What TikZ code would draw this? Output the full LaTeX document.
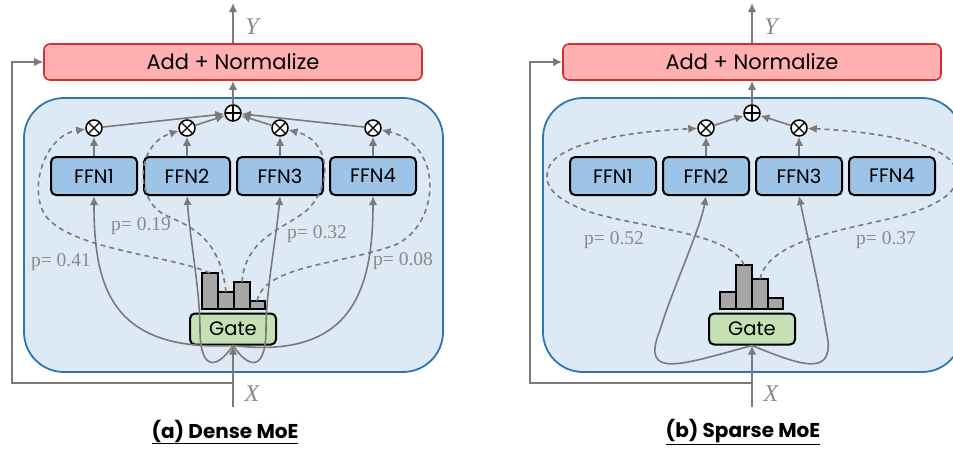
\documentclass[tikz,border=0pt]{standalone}
\usepackage{fontspec}
\setmainfont{Liberation Serif}
\newfontfamily\gothic{Poppins}
\usetikzlibrary{arrows.meta}
\definecolor{lgray}{HTML}{7A7A7A}
\definecolor{tgray}{HTML}{8A8A8A}
\definecolor{addred}{HTML}{D0312D}
\definecolor{addpink}{HTML}{FFB1B1}
\definecolor{moeblue}{HTML}{2E75B6}
\definecolor{moebg}{HTML}{DDEAF6}
\definecolor{ffnblue}{HTML}{9DC3E6}
\definecolor{gategreen}{HTML}{C5E0B4}
\definecolor{bargray}{HTML}{A6A6A6}
\tikzset{
  outerbox/.style={draw=moeblue, fill=moebg, line width=1.8pt, rounded corners=40pt, minimum width=419pt, minimum height=274pt, inner sep=0pt},
  addbox/.style={draw=addred, fill=addpink, line width=1.6pt, rounded corners=6pt, minimum width=378pt, minimum height=36pt, inner sep=0pt, font=\gothic\fontsize{21}{24}\selectfont},
  ffnbox/.style={draw=black, fill=ffnblue, line width=2pt, rounded corners=5pt, minimum width=86pt, minimum height=38pt, inner sep=0pt, font=\gothic\fontsize{19.5}{22}\selectfont},
  gatebox/.style={draw=black, fill=gategreen, line width=2pt, rounded corners=5pt, minimum width=86pt, minimum height=31pt, inner sep=0pt, font=\gothic\fontsize{19.5}{22}\selectfont},
  bar/.style={draw=black, fill=bargray, line width=1.4pt},
  otimesnode/.style={circle, draw=black, fill=white, line width=1.5pt, minimum size=16pt, inner sep=0pt,
    path picture={\draw[line width=1.4pt] (path picture bounding box.south west) -- (path picture bounding box.north east) (path picture bounding box.north west) -- (path picture bounding box.south east);}},
  oplusnode/.style={circle, draw=black, fill=white, line width=1.5pt, minimum size=16pt, inner sep=0pt,
    path picture={\draw[line width=1.4pt] (path picture bounding box.north) -- (path picture bounding box.south) (path picture bounding box.west) -- (path picture bounding box.east);}},
  conn/.style={draw=lgray, line width=1.6pt, -{Latex[length=9pt,width=8.5pt]}},
  dashconn/.style={conn, dash pattern=on 5pt off 4pt},
  plabel/.style={text=tgray, font=\fontsize{19.5}{22}\selectfont, inner sep=1pt},
  xylabel/.style={text=tgray, font=\itshape\fontsize{24}{26}\selectfont, inner sep=0pt},
  caption/.style={font=\gothic\bfseries\fontsize{20}{24}\selectfont, inner sep=0pt},
}
\begin{document}
\begin{tikzpicture}[x=1pt,y=-1pt]
\useasboundingbox (0,0) rectangle (953,451);
% ================= (a) Dense MoE =================
\node[outerbox] (aouter) at (233.5,235) {};
\node[addbox] (aadd) at (233,62) {Add + Normalize};
\node[oplusnode] (aplus) at (233,113) {};
\node[ffnbox] (af1) at (94,176) {FFN1};
\node[ffnbox] (af2) at (187,176) {FFN2};
\node[ffnbox] (af3) at (280,176) {FFN3};
\node[ffnbox] (af4) at (373,176) {FFN4};
\node[otimesnode] (ax1) at (94,128) {};
\node[otimesnode] (ax2) at (187,128) {};
\node[otimesnode] (ax3) at (280,128) {};
\node[otimesnode] (ax4) at (373,128) {};
\node[gatebox] (agate) at (233,329) {Gate};
\draw[bar] (202,273) rectangle (218,309);
\draw[bar] (218,292) rectangle (234,309);
\draw[bar] (234,282) rectangle (250,309);
\draw[bar] (250,301) rectangle (265,309);
\coordinate (ab1) at (210,273);
\coordinate (ab2) at (226,292);
\coordinate (ab3) at (242,282);
\coordinate (ab4) at (257,301);
\coordinate (aytop) at (233,3);
\coordinate (axbot) at (233,407);
\coordinate (askip) at (233,383);
\coordinate (acorner) at (12,383);
% arrows
\draw[conn] (aadd.north) -- (aytop);
\draw[conn] (aplus) -- (aadd.south);
\foreach \i in {1,2,3,4} {\draw[conn] (af\i.north) -- (ax\i); \draw[conn] (ax\i) -- (aplus);}
\draw[conn] (axbot) -- (agate.south);
\draw[conn] (askip) -- (acorner) |- (aadd.west);
% solid gate -> FFN
\draw[conn] (agate.south) .. controls (110,352) and (94,285) .. (af1.south);
\draw[conn] (agate.south) .. controls (215,372) and (200,368) .. (200,330) .. controls (200,290) and (190,240) .. (af2.south);
\draw[conn] (agate.south) .. controls (251,372) and (266,368) .. (266,330) .. controls (266,290) and (276,240) .. (af3.south);
\draw[conn] (agate.south) .. controls (352,360) and (373,290) .. (af4.south);
% dashed bars -> otimes
\draw[dashconn] (ab1) .. controls (170,255) and (70,250) .. (45,215) .. controls (28,188) and (45,135) .. (ax1);
\draw[dashconn] (ab2) .. controls (220,240) and (195,228) .. (165,215) .. controls (135,200) and (135,145) .. (ax2);
\draw[dashconn] (ab3) .. controls (245,240) and (280,230) .. (305,212) .. controls (335,185) and (330,140) .. (ax3);
\draw[dashconn] (ab4) .. controls (265,265) and (340,265) .. (395,245) .. controls (440,225) and (445,145) .. (ax4);
\node[plabel] (ap1) at (61,262) {p= 0.41};
\node[plabel] (ap2) at (141,226) {p= 0.19};
\node[plabel] (ap3) at (317,234) {p= 0.32};
\node[plabel] (ap4) at (403,261) {p= 0.08};
\node[xylabel] (aY) at (252,27) {Y};
\node[xylabel] (aX) at (252,394) {X};
\node[caption] (acap) at (225,432) {\underline{(a) Dense MoE}};
% ================= (b) Sparse MoE =================
\node[outerbox] (bouter) at (752.5,235) {};
\node[addbox] (badd) at (752,62) {Add + Normalize};
\node[oplusnode] (bplus) at (752,113) {};
\node[ffnbox] (bf1) at (613,176) {FFN1};
\node[ffnbox] (bf2) at (706,176) {FFN2};
\node[ffnbox] (bf3) at (799,176) {FFN3};
\node[ffnbox] (bf4) at (892,176) {FFN4};
\node[otimesnode] (bx2) at (706,128) {};
\node[otimesnode] (bx3) at (799,128) {};
\node[gatebox] (bgate) at (752,329) {Gate};
\draw[bar] (720,292) rectangle (736,309);
\draw[bar] (736,265) rectangle (752,309);
\draw[bar] (752,279) rectangle (768,309);
\draw[bar] (768,298) rectangle (783,309);
\coordinate (bb2) at (744,265);
\coordinate (bb3) at (760,279);
\coordinate (bytop) at (752,3);
\coordinate (bxbot) at (752,407);
\coordinate (bskip) at (752,383);
\coordinate (bcorner) at (530,383);
\draw[conn] (badd.north) -- (bytop);
\draw[conn] (bplus) -- (badd.south);
\foreach \i in {2,3} {\draw[conn] (bf\i.north) -- (bx\i); \draw[conn] (bx\i) -- (bplus);}
\draw[conn] (bxbot) -- (bgate.south);
\draw[conn] (bskip) -- (bcorner) |- (badd.west);
\draw[conn] (bgate.south) .. controls (680,365) and (640,380) .. (660,330) .. controls (672,290) and (700,230) .. (bf2.south);
\draw[conn] (bgate.south) .. controls (800,365) and (838,380) .. (826,330) .. controls (818,280) and (806,230) .. (bf3.south);
\draw[dashconn] (bb2) .. controls (730,232) and (640,228) .. (590,212) .. controls (555,200) and (540,185) .. (550,165) .. controls (565,140) and (640,131) .. (bx2);
\draw[dashconn] (bb3) .. controls (770,235) and (864,228) .. (914,212) .. controls (949,200) and (964,185) .. (954,165) .. controls (939,140) and (864,131) .. (bx3);
\node[plabel] (bp2) at (614,240) {p= 0.52};
\node[plabel] (bp3) at (886,240) {p= 0.37};
\node[xylabel] (bY) at (771,27) {Y};
\node[xylabel] (bX) at (771,394) {X};
\node[caption] (bcap) at (743,432) {\underline{(b) Sparse MoE}};
\end{tikzpicture}
\end{document}
